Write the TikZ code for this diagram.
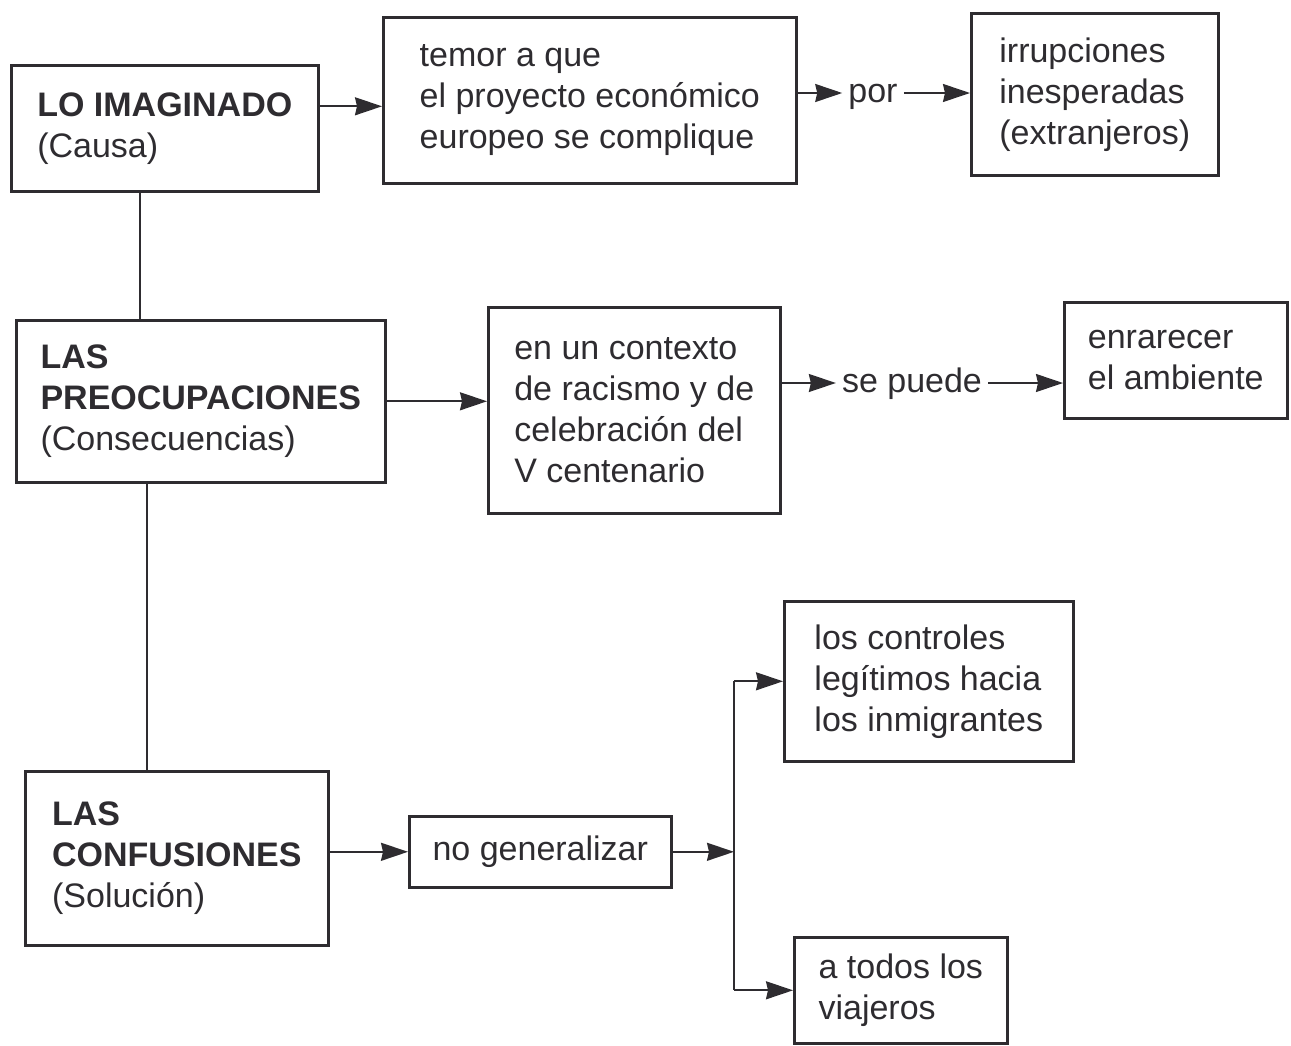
\documentclass[tikz,border=0pt]{standalone}
\usepackage{fontspec}
\setmainfont{Liberation Sans}
\usetikzlibrary{arrows.meta}
\definecolor{tinta}{HTML}{2E2C30}

\tikzset{
  caja/.style={draw=tinta, line width=2.6pt, anchor=north west, align=left, inner sep=0pt,
    text=tinta, font=\fontsize{34}{41}\selectfont},
  enlace/.style={inner xsep=6pt, inner ysep=0pt, text height=18pt, text depth=0pt,
    text=tinta, font=\fontsize{34}{41}\selectfont},
  flecha/.style={draw=tinta, line width=1.8pt, -{Stealth[length=27pt,width=18pt,inset=2pt]}},
  linea/.style={draw=tinta, line width=1.8pt},
}

\begin{document}
\begin{tikzpicture}[x=1pt,y=-1pt]
\useasboundingbox (0,0) rectangle (1291,1045);

% cajas
\node[caja, minimum width=307, minimum height=126] (lo) at (10,64) {\textbf{LO IMAGINADO}\\(Causa)};
\node[caja, minimum width=413, minimum height=166] (temor) at (382,16) {temor a que\\el proyecto económico\\europeo se complique};
\node[caja, minimum width=247, minimum height=162] (irr) at (970,12) {irrupciones\\inesperadas\\(extranjeros)};

\node[caja, minimum width=369, minimum height=162] (preoc) at (15,319) {\textbf{LAS}\\\textbf{PREOCUPACIONES}\\(Consecuencias)};
\node[caja, minimum width=292, minimum height=206] (ctx) at (487,306) {en un contexto\\de racismo y de\\celebración del\\V centenario};
\node[caja, minimum width=223, minimum height=116] (enr) at (1063,301) {enrarecer\\el ambiente};

\node[caja, minimum width=303, minimum height=174] (conf) at (24,770) {\textbf{LAS}\\\textbf{CONFUSIONES}\\(Solución)};
\node[caja, minimum width=262, minimum height=71] (nogen) at (408,815) {no generalizar};
\node[caja, minimum width=289, minimum height=160] (ctl) at (783,600) {los controles\\legítimos hacia\\los inmigrantes};
\node[caja, minimum width=213, minimum height=106] (todos) at (793,936) {a todos los\\viajeros};

% enlaces
\node[enlace] (por) at (873,93) {por};
\node[enlace] (puede) at (912,383) {se puede};

\coordinate (e1) at ([yshift=-6pt]temor.west);
\coordinate (eje1) at (140,0);
\coordinate (eje2) at (147,0);
\coordinate (rama) at (734,850);

% conectores
\draw[flecha] (lo.east |- e1) -- (e1);
\draw[flecha] (temor.east |- por) -- (por.west);
\draw[flecha] (por.east) -- (irr.west |- por);
\draw[linea] (lo.south -| eje1) -- (preoc.north -| eje1);

\draw[flecha] (preoc.east) -- (preoc.east -| ctx.west);
\draw[flecha] (ctx.east |- puede) -- (puede.west);
\draw[flecha] (puede.east) -- (enr.west |- puede);
\draw[linea] (preoc.south -| eje2) -- (conf.north -| eje2);

\draw[flecha] (conf.east |- nogen.west) -- (nogen.west);
\draw[flecha] (nogen.east) -- (rama |- nogen.east);
\draw[linea] (rama |- ctl.west) -- (rama |- todos.west);
\draw[flecha] (rama |- ctl.west) -- (ctl.west);
\draw[flecha] (rama |- todos.west) -- (todos.west);
\end{tikzpicture}
\end{document}
